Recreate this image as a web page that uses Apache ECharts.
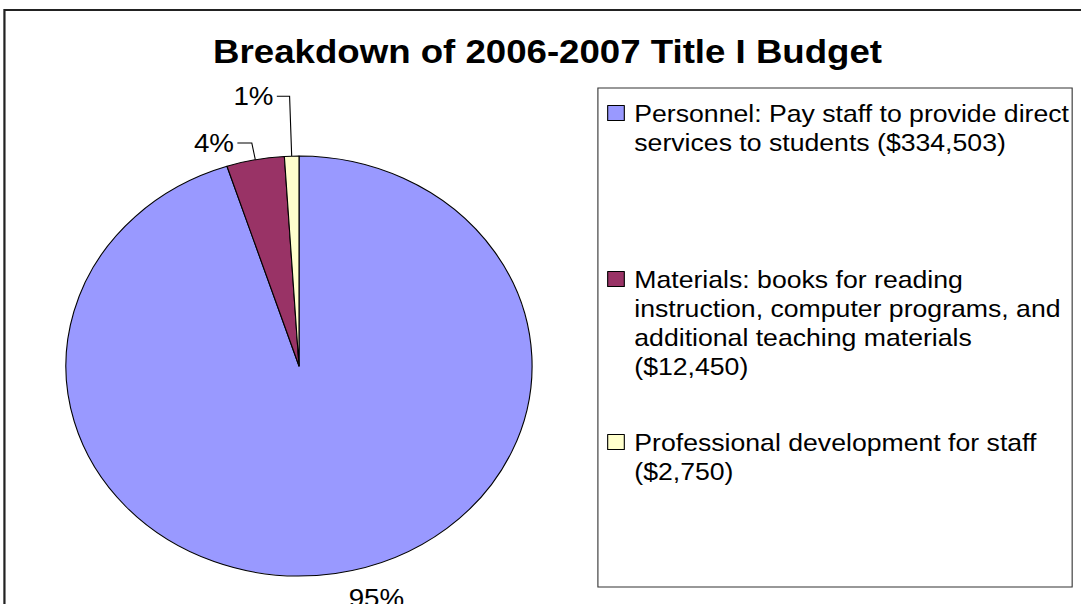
<!DOCTYPE html>
<html>
<head>
<meta charset="utf-8">
<script src="https://cdn.jsdelivr.net/npm/echarts@6/dist/echarts.min.js"></script>
<style>
  html, body { margin: 0; padding: 0; background: #fff; overflow: hidden; }
  /* the source picture is stretched sideways (round pie shows as an ellipse),
     so the chart is drawn narrower and widened with a transform */
  #chart { width: 974px; height: 604px; transform: scaleX(1.1099); transform-origin: 0 0; }
</style>
</head>
<body>
<div id="chart"></div>
<script>
const chartTitle = 'Breakdown of 2006-2007 Title I Budget';

const categories = [
  'Personnel: Pay staff to provide direct\nservices to students ($334,503)',
  'Materials: books for reading\ninstruction, computer programs, and\nadditional teaching materials\n($12,450)',
  'Professional development for staff\n($2,750)'
];
const shares = [95, 4, 1]; // percent of budget, as drawn in the pie
const colors = ['#9999FF', '#993366', '#FFFFCC'];

const FONT = '"Liberation Sans", Arial, sans-serif';

// leader line lengths per slice (the big slice has no visible line)
const leaderLines = [
  { show: false, length: 25, length2: 5 },
  { show: true, length: 17, length2: 13 },
  { show: true, length: 60, length2: 11.5 }
];
const legendTops = [69.5, 177.5, 398.5];
const LINE_H = 29;

let myChart = echarts.init(document.getElementById('chart'), null, { renderer: 'svg' });

let option = {
  animation: false,
  title: {
    text: chartTitle,
    left: 192,
    top: 35,
    padding: 0,
    textStyle: { fontSize: 33, fontWeight: 'bold', color: '#000', fontFamily: FONT, lineHeight: 33 }
  },
  // one legend per entry so each can sit where the original puts it
  legend: categories.map((name, i) => ({
    data: [name],
    orient: 'vertical',
    left: 547,
    top: legendTops[i],
    padding: 0,
    icon: 'rect',
    itemWidth: 15,
    itemHeight: 15,
    selectedMode: false,
    itemStyle: { borderColor: '#000', borderWidth: 1 },
    // blank lines in front keep the marker level with the first text line
    formatter: n => '\n'.repeat(n.split('\n').length - 1) + n,
    textStyle: {
      fontSize: 24,
      lineHeight: LINE_H,
      color: '#000',
      fontFamily: FONT,
      padding: [0, 0, 0, 4]
    }
  })),
  graphic: [
    { type: 'rect', silent: true, z: -1, shape: { x: 4, y: 10, width: 1200, height: 800 },
      style: { fill: 'none', stroke: '#222', lineWidth: 2 } },
    { type: 'rect', silent: true, z: -1, shape: { x: 538.7, y: 88, width: 427.3, height: 499 },
      style: { fill: 'none', stroke: '#333', lineWidth: 1 } }
  ],
  series: [{
    type: 'pie',
    center: [269.4, 366],
    radius: 210,
    startAngle: 90,
    clockwise: true,
    avoidLabelOverlap: false,
    silent: true,
    itemStyle: { borderColor: '#000', borderWidth: 1 },
    label: {
      show: true,
      position: 'outside',
      formatter: '{d}%',
      fontSize: 25,
      color: '#000',
      fontFamily: FONT,
      distanceToLabelLine: 3
    },
    labelLine: { show: true, lineStyle: { color: '#000', width: 1 } },
    emphasis: { disabled: true },
    data: categories.map((name, i) => ({
      name: name,
      value: shares[i],
      itemStyle: { color: colors[i] },
      labelLine: leaderLines[i]
    }))
  }]
};

myChart.setOption(option);
</script>
</body>
</html>
